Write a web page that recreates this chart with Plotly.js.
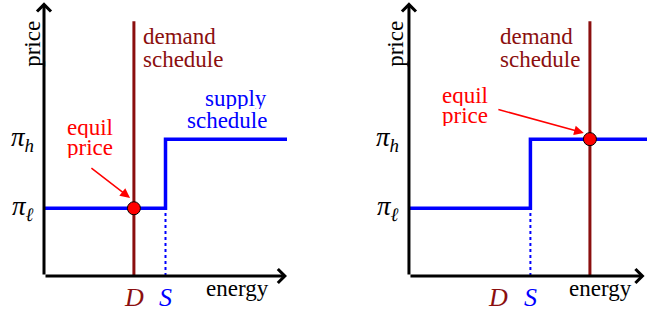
<!DOCTYPE html>
<html>
<head>
<meta charset="utf-8">
<script src="https://cdn.plot.ly/plotly-3.0.1.min.js"></script>
<style>html,body{margin:0;padding:0;background:#fff;}#chart{width:647px;height:312px;}</style>
</head>
<body>
<div id="chart"></div>
<script>
// ---- data (energy / price units) ----
const priceLevels = [2.5, 5.05];            // pi_l, pi_h
const priceTickLabels = ["<i>π</i><sub><i>ℓ</i></sub>", "<i>π</i><sub><i>h</i></sub>"];
const supplyStep = 5.0;                     // S
const supplyXLeft = [0, 5.0, 5.0, 10];
const supplyXRight = [0, 5.0, 5.0, 9.8];
const supplyY = [2.5, 2.5, 5.05, 5.05];
const demandLeft = 3.7;                     // D (left panel)
const demandRight = 7.45;                   // demand line (right panel)
const demandLabelRight = 3.66;              // D label (right panel)
const demandTop = 9.4;
const equilLeft = [3.7, 2.5];
const equilRight = [7.45, 5.05];
const energyLabel = "energy";
const priceLabel = "price";

const SERIF = "Liberation Serif, Times New Roman, serif";
const FS = 23;
const MAROON = "#8b0f0f", BLUE = "#0000ff", RED = "#ff0000";

function panel(xa, ya, supplyX, demandX, equil) {
  return [
    {x: [demandX, demandX], y: [0, demandTop], xaxis: xa, yaxis: ya, mode: "lines",
     line: {color: MAROON, width: 3}, hoverinfo: "skip"},
    {x: [supplyStep, supplyStep], y: [0, priceLevels[0]], xaxis: xa, yaxis: ya, mode: "lines",
     line: {color: BLUE, width: 2, dash: "dot"}, hoverinfo: "skip"},
    {x: supplyX, y: supplyY, xaxis: xa, yaxis: ya, mode: "lines",
     line: {color: BLUE, width: 3.5}, hoverinfo: "skip"},
    {x: [equil[0]], y: [equil[1]], xaxis: xa, yaxis: ya, mode: "markers", cliponaxis: false,
     marker: {color: RED, size: 13, line: {color: "#000", width: 1}}, hoverinfo: "skip"}
  ];
}

const data = [].concat(
  panel("x", "y", supplyXLeft, demandLeft, equilLeft),
  panel("x2", "y", supplyXRight, demandRight, equilRight)
);

function txt(xr, x, y, text, color, opts, size) {
  return Object.assign({xref: xr, yref: "y", x: x, y: y, text: text, showarrow: false,
    font: {family: SERIF, size: size || FS, color: color}, xanchor: "center", yanchor: "middle"}, opts || {});
}
function arrow(xr, x0, y0, x1, y1, color, w, head, size) {
  return {xref: xr, yref: "y", axref: xr, ayref: "y", x: x1, y: y1, ax: x0, ay: y0, text: "",
    showarrow: true, arrowcolor: color, arrowwidth: w, arrowhead: head, arrowsize: size,
    standoff: 0, startstandoff: 0};
}

function panelAnn(xr, o) {
  return [
    arrow(xr, 0, 0, o.xEnd, 0, "#000", 3, 4, 0.9),
    arrow(xr, 0, 0, 0, 10.1, "#000", 3, 4, 0.9),
    txt(xr, o.priceX, 8.58, priceLabel, "#000", {textangle: -90}),
    txt(xr, -0.33, priceLevels[1] + 0.02, priceTickLabels[1], "#000", {xanchor: "right"}, 27),
    txt(xr, -0.33, priceLevels[0] + 0.02, priceTickLabels[0], "#000", {xanchor: "right"}, 27),
    txt(xr, o.dLabel, -0.8, "<i>D</i>", MAROON, null, 26),
    txt(xr, supplyStep, -0.8, "<i>S</i>", BLUE, null, 26),
    txt(xr, o.energyX, -0.47, energyLabel, "#000"),
    txt(xr, o.demX, 8.84, "demand", MAROON, {xanchor: o.demAnchor, height: 21}),
    txt(xr, o.demX, 8.0, "schedule", MAROON, {xanchor: o.demAnchor, height: 21}),
    txt(xr, o.eqX, o.eqY[0], "equil", RED, {xanchor: o.eqAnchor, height: 21}),
    txt(xr, o.eqX, o.eqY[1], "price", RED, {xanchor: o.eqAnchor, height: 21}),
    arrow(xr, o.arr[0], o.arr[1], o.arr[2], o.arr[3], RED, 1.5, 2, 1.3)
  ];
}

const annotations = [].concat(
  panelAnn("x", {xEnd: 10, priceX: -0.48, dLabel: demandLeft, energyX: 7.98, demX: 3.99, demAnchor: "left",
    eqX: 1.89, eqAnchor: "center", eqY: [5.49, 4.75], arr: [1.89, 4.02, 3.54, 2.88]}),
  [txt("x", 9.26, 6.54, "supply", BLUE, {xanchor: "right", height: 21}),
   txt("x", 9.26, 5.75, "schedule", BLUE, {xanchor: "right", height: 21})],
  panelAnn("x2", {xEnd: 9.7, priceX: -0.56, dLabel: demandLabelRight, energyX: 7.9, demX: 3.66, demAnchor: "left",
    eqX: 1.28, eqAnchor: "left", eqY: [6.67, 5.93], arr: [3.62, 6.16, 7.2, 5.28]})
);

const H = 312, W = 647, PXX = 24.3, PXY = 27.1;
const layout = {
  width: W, height: H, margin: {l: 0, r: 0, t: 0, b: 0},
  paper_bgcolor: "#fff", plot_bgcolor: "rgba(0,0,0,0)", showlegend: false,
  xaxis: {domain: [0, 287 / W], range: [-44 / PXX, 10], visible: false, fixedrange: true},
  xaxis2: {domain: [300 / W, 1], range: [-(409 - 300) / PXX, 9.8], visible: false, fixedrange: true},
  yaxis: {domain: [0, 1], range: [-(H - 276) / PXY, 276 / PXY], visible: false, fixedrange: true},
  annotations: annotations
};

Plotly.newPlot("chart", data, layout, {staticPlot: true, displayModeBar: false});
</script>
</body>
</html>
